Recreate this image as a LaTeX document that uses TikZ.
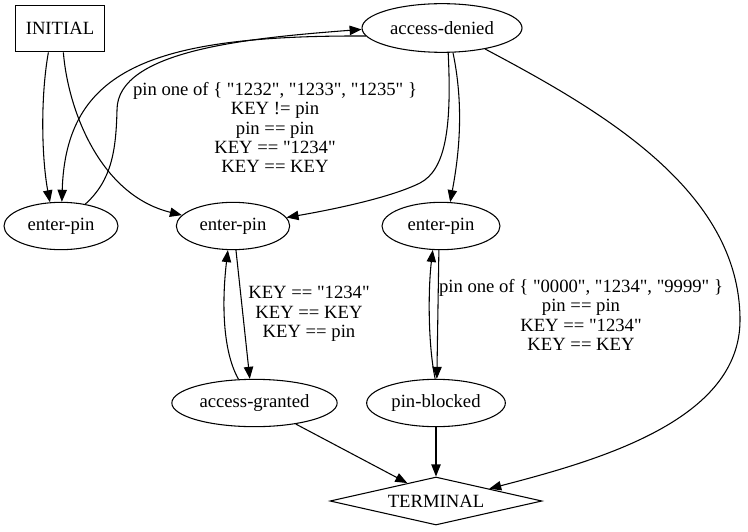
\documentclass[tikz,border=0pt]{standalone}
\usepackage{fontspec}
\setmainfont{Liberation Serif}[Ligatures=TeXOff]
\usetikzlibrary{shapes.geometric,arrows.meta}
\begin{document}
\begin{tikzpicture}[font=\fontsize{14}{14.5}\selectfont,x=0.75pt,y=-0.75pt,line width=0.8pt,
 st/.style={draw,ellipse,inner sep=0pt,minimum height=35.5pt},
 arr/.style={-{Triangle[length=9pt,width=7pt]}},
 lab/.style={align=center,inner sep=0pt}]
\useasboundingbox (0,0) rectangle (748,531);
\node[draw,rectangle,minimum width=67pt,minimum height=35pt,inner sep=0pt] (init) at (60,28.5) {INITIAL};
\node[st,minimum width=120pt,minimum height=36.5pt] (denied) at (442,28) {access-denied};
\node[st,minimum width=85.5pt] (pinA) at (61,226) {enter-pin};
\node[st,minimum width=85pt] (pinB) at (233,226) {enter-pin};
\node[st,minimum width=88.5pt] (pinC) at (441,226) {enter-pin};
\node[st,minimum width=124pt] (granted) at (254.5,403) {access-granted};
\node[st,minimum width=104pt] (blocked) at (436,403) {pin-blocked};
\node[draw,diamond,aspect=4.4,inner sep=0pt,minimum width=159pt,minimum height=36pt] (term) at (436,501) {TERMINAL};
% guards
\node[lab] (labA) at (275,127.5) {pin one of \{ "1232", "1233", "1235" \}\\KEY != pin\\pin == pin\\KEY == "1234"\\KEY == KEY};
\node[lab] (labB) at (309,314) {KEY == "1234"\\KEY == KEY\\KEY == pin};
\node[lab] (labC) at (581,315) {pin one of \{ "0000", "1234", "9999" \}\\pin == pin\\KEY == "1234"\\KEY == KEY};
% transitions
\draw[arr] (init.244) .. controls (40,100) and (42,160) .. (pinA.115);
\draw[arr] (init.278) .. controls (68,110) and (100,195) .. (pinB.168);
\draw[arr] (denied.186) .. controls (150,35) and (66,70) .. (pinA.88);
\draw[arr] (pinA.42) .. controls (112,180) and (116,150) .. (117,110) .. controls (117,50) and (250,38) .. (denied.181);
\draw[arr] (denied.284) .. controls (452,130) and (445,170) .. (420,183) .. controls (390,198) and (330,210) .. (pinB.9);
\draw[arr] (denied.294) .. controls (465,110) and (458,160) .. (pinC.69);
\draw[arr] (denied.334) .. controls (600,110) and (740,190) .. (740,320) .. controls (740,420) and (600,460) .. (term.13);
\draw[arr] (pinB.277) -- (granted.101);
\draw[arr] (granted.124) .. controls (222,350) and (222,300) .. (pinB.258);
\draw[arr] (blocked.92) .. controls (428,345) and (428,290) .. (pinC.251);
\draw[arr] (pinC.265) -- (blocked.88);
\draw[arr] (granted.333) -- (term.148);
\draw[arr] (blocked.south) -- (term.north);
\end{tikzpicture}
\end{document}
